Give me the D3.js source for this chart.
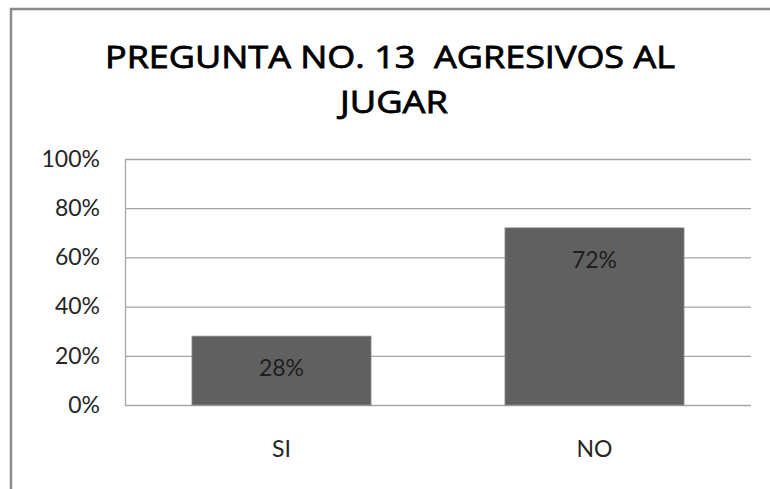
<!DOCTYPE html>
<html>
<head>
<meta charset="utf-8">
<script src="https://cdn.jsdelivr.net/npm/d3@7"></script>
<style>
  body { margin: 0; background: #fff; }
  svg { display: block; }
</style>
</head>
<body>
<script>
// chart data
var categories = ["SI", "NO"];
var values = [0.28, 0.72];
var yTicks = [0, 0.2, 0.4, 0.6, 0.8, 1];
var titleLines = ["PREGUNTA NO. 13  AGRESIVOS AL", "JUGAR"];

var w = 770;
var h = 489;

var svg = d3.select("body")
            .append("svg")
            .attr("width", w)
            .attr("height", h);

// outer frame (runs past the right and bottom edges)
svg.append("rect")
   .attr("x", 11)
   .attr("y", 9)
   .attr("width", 820)
   .attr("height", 600)
   .attr("fill", "#fff")
   .attr("stroke", "#8c8c8c")
   .attr("stroke-width", 2.5);

// plot area
var plot = {left: 125, right: 751, top: 159, bottom: 405};

var yScale = d3.scaleLinear()
               .domain([0, 1])
               .range([plot.bottom, plot.top]);

var xScale = d3.scaleBand()
               .domain(categories)
               .range([plot.left, plot.right])
               .paddingInner(0.428)
               .paddingOuter(0.214);

// title
svg.append("text")
   .attr("text-anchor", "middle")
   .attr("font-family", "'Open Sans', sans-serif")
   .attr("font-weight", 400)
   .attr("font-size", 31)
   .attr("fill", "#000")
   .attr("stroke", "#000")
   .attr("stroke-width", 0.8)
   .style("white-space", "pre")
   .selectAll("tspan")
   .data(titleLines)
   .enter()
   .append("tspan")
   .attr("x", (d, i) => i == 0 ? 390 : 394)
   .attr("y", (d, i) => i == 0 ? 68 : 113)
   .attr("textLength", (d, i) => i == 0 ? 570 : 108)
   .attr("lengthAdjust", "spacingAndGlyphs")
   .text(d => d);

// gridlines
var grid = svg.append("g")
              .attr("transform", `translate(${plot.left}, 0)`)
              .call(d3.axisLeft(yScale)
                      .tickValues(yTicks)
                      .tickSize(-(plot.right - plot.left))
                      .tickSizeOuter(0)
                      .tickFormat(""));
grid.selectAll("line").attr("stroke", "#a6a6a6").attr("stroke-width", 1.3);
grid.select(".domain").attr("stroke", "#a6a6a6").attr("stroke-width", 1.3);

// y axis labels
var yAxis = svg.append("g")
               .attr("transform", `translate(${plot.left}, 0)`)
               .call(d3.axisLeft(yScale)
                       .tickValues(yTicks)
                       .tickSize(0)
                       .tickPadding(25)
                       .tickFormat(d3.format(".0%")));
yAxis.select(".domain").remove();
yAxis.selectAll("text")
     .attr("font-family", "Lato, sans-serif")
     .attr("font-size", 23)
     .attr("fill", "#262626");

// bars
svg.selectAll("rect.bar")
   .data(values)
   .enter()
   .append("rect")
   .attr("class", "bar")
   .attr("x", (d, i) => xScale(categories[i]))
   .attr("y", d => yScale(d))
   .attr("width", xScale.bandwidth())
   .attr("height", d => yScale(0) - yScale(d))
   .attr("fill", "#606060")
   .attr("stroke", "#8a8a8a")
   .attr("stroke-width", 0.8);

// value labels
svg.selectAll("text.value")
   .data(values)
   .enter()
   .append("text")
   .attr("class", "value")
   .attr("x", (d, i) => xScale(categories[i]) + xScale.bandwidth() / 2)
   .attr("y", d => yScale(d) + 40)
   .attr("text-anchor", "middle")
   .attr("font-family", "Lato, sans-serif")
   .attr("font-size", 23)
   .attr("fill", "#1e1e1e")
   .text(d => d3.format(".0%")(d));

// x axis labels
var xAxis = svg.append("g")
               .attr("transform", `translate(0, ${plot.bottom})`)
               .call(d3.axisBottom(xScale)
                       .tickSize(0)
                       .tickPadding(36));
xAxis.select(".domain").remove();
xAxis.selectAll("text")
     .attr("font-family", "Lato, sans-serif")
     .attr("font-size", 23)
     .attr("fill", "#262626");
</script>
</body>
</html>
